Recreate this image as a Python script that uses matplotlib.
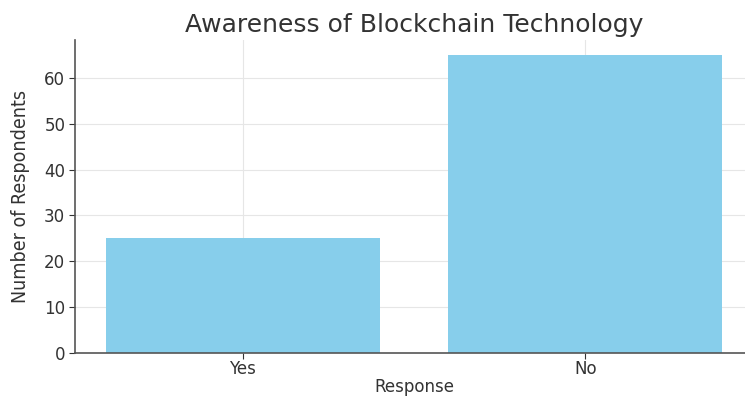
import matplotlib
matplotlib.use("Agg")
import matplotlib.pyplot as plt

categories = ["Yes", "No"]
counts = [25, 65]

fig = plt.figure(figsize=(7.45, 3.99), dpi=100)
ax = fig.add_axes([75/745, 46/399, 678/745, 313/399])

ax.bar(categories, counts, color="skyblue", width=0.8, zorder=2)
ax.set_ylim(0, 68.25)
ax.set_xlim(-0.49, 1.49)
ax.set_yticks([0, 10, 20, 30, 40, 50, 60])

ax.grid(True, color="#e6e6e6", linewidth=0.8, zorder=0)
ax.set_axisbelow(True)
for s in ["top", "right"]:
    ax.spines[s].set_visible(False)
for s in ["left", "bottom"]:
    ax.spines[s].set_color("#555555")
    ax.spines[s].set_linewidth(1.2)

ax.tick_params(axis="x", labelsize=12, colors="#333333", length=4, pad=1)
ax.tick_params(axis="y", labelsize=12, colors="#333333", length=4, pad=3)
ax.set_title("Awareness of Blockchain Technology", fontsize=18, color="#333333", pad=6)
ax.set_xlabel("Response", fontsize=12, color="#333333", labelpad=0)
ax.set_ylabel("Number of Respondents", fontsize=14, color="#333333", fontstretch="condensed", labelpad=10)

fig.savefig("out.png", dpi=100)
